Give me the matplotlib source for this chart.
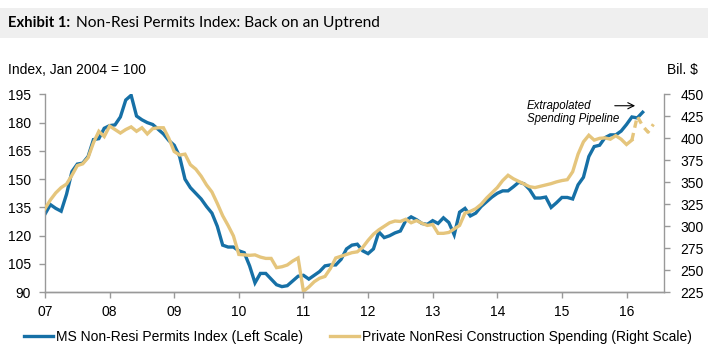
import numpy as np
import matplotlib
matplotlib.use("Agg")
import matplotlib.pyplot as plt
from matplotlib.patches import Rectangle, FancyArrowPatch
from matplotlib.lines import Line2D

# monthly data starting Jan 2007
start_year = 2007
permits = [131.5, 136.5, 134.5, 133, 142, 154, 158, 158.5, 162, 171, 171.5, 177,
           178.4, 178.8, 183, 192, 194.5, 183.5, 181.5, 180, 179, 176.5, 174, 170.5,
           168, 162, 150, 145.5, 142.5, 139.5, 135.5, 132, 125, 115, 114, 114,
           112, 111, 104, 95, 100, 100, 97, 94, 93, 93.5, 96, 98.5,
           99, 97, 99, 101, 104, 104.5, 104.5, 107.5, 113, 115, 115.5, 112,
           110.5, 113, 122, 119, 120, 121.5, 122.5, 128, 130, 128.5, 126.5, 126,
           128, 126.5, 129.5, 127, 120.5, 132.5, 134.5, 130.5, 132, 135.5, 138, 140.5,
           142.5, 143.8, 143.8, 146, 148.4, 147.5, 144.5, 140, 140, 140.5, 135, 137.5,
           140.3, 140.3, 139.5, 147, 151, 162, 167.3, 168, 172, 173.5, 173.5, 175.5,
           179, 183, 182.5, 185.5]
spending = [320, 330, 338, 344, 348, 358, 369, 371, 378, 395, 408, 402,
            414, 410, 406, 410, 413, 408, 412, 405, 411, 412, 412, 400,
            385, 381, 382, 370, 365, 357, 347, 339, 326, 312, 301, 289,
            268, 267.5, 267, 267.5, 265, 263.5, 263.5, 253, 254, 256, 260.5, 264,
            226, 231, 237, 241, 243, 252, 264, 266, 268, 270, 271, 276,
            284, 291, 296, 300, 304, 306, 305.5, 308, 304, 306.5, 303.5, 301,
            302, 292, 292, 293, 297, 301, 315, 317, 320, 325, 332, 338,
            344, 352, 358, 354, 351, 348, 345, 344, 345.5, 347, 348.5, 350.5,
            352, 353, 362, 382, 396, 403.5, 398, 400, 400.5, 399, 403, 399,
            393, 398]
# extrapolated pipeline (dashed), continues from last spending month
extrap = [398, 425, 414, 407, 416]

year_labels = ['07', '08', '09', '10', '11', '12', '13', '14', '15', '16']
left_ticks = [90, 105, 120, 135, 150, 165, 180, 195]
right_ticks = [225, 250, 275, 300, 325, 350, 375, 400, 425, 450]

blue = '#1670a6'
tan = '#e5c57c'
grey = '#999999'

plt.rcParams['font.family'] = ['Liberation Sans', 'DejaVu Sans']

fig = plt.figure(figsize=(7.2, 3.56), dpi=100)
ax = fig.add_axes([0.0625, 0.179, 0.8597, 0.556])
ax2 = ax.twinx()

x1 = start_year + np.arange(len(permits)) / 12
x2 = start_year + np.arange(len(spending)) / 12
x3 = start_year + (len(spending) - 1 + np.arange(len(extrap))) / 12

ax.plot(x1, permits, color=blue, lw=2.4, solid_joinstyle='miter')
ax2.plot(x2, spending, color=tan, lw=2.4, solid_joinstyle='miter')
ax2.plot(x3, extrap, color=tan, lw=2.4, dashes=(2.2, 1.6))

ax.set_xlim(2007, 2016.58)
ax.set_ylim(90, 195)
ax2.set_ylim(225, 450)
ax.set_xticks(np.arange(2007, 2017))
ax.set_xticklabels(year_labels)
ax.set_yticks(left_ticks)
ax2.set_yticks(right_ticks)

for a in (ax, ax2):
    a.spines['top'].set_visible(False)
    for s in ('left', 'right', 'bottom'):
        a.spines[s].set_color(grey)
        a.spines[s].set_linewidth(1.0)
    a.tick_params(colors=grey, labelcolor='black', labelsize=10, length=4, width=1)
ax.tick_params(axis='y', pad=6)
ax2.tick_params(axis='y', pad=8)
ax.tick_params(axis='x', pad=5)
ax2.spines['left'].set_visible(False)
ax.spines['right'].set_visible(False)

# title bar
fig.patches.append(Rectangle((0, 0.893), 0.983, 0.0845, transform=fig.transFigure,
                             facecolor='#efefef', edgecolor='none', zorder=0))
fig.text(0.011, 0.935, 'Exhibit 1:', fontsize=10.6, fontweight='bold',
         family=['Lato', 'DejaVu Sans'], va='center')
fig.text(0.106, 0.935, 'Non-Resi Permits Index: Back on an Uptrend', fontsize=11.2,
         family=['Lato', 'DejaVu Sans'], va='center')

fig.text(0.011, 0.802, 'Index, Jan 2004 = 100', fontsize=10, va='center')
fig.text(0.926, 0.802, 'Bil. $', fontsize=10, va='center')

fig.text(0.732, 0.683, 'Extrapolated\nSpending Pipeline', fontsize=8.3, style='italic',
         va='center', linespacing=1.1)
fig.patches.append(FancyArrowPatch(
    (0.85, 0.703), (0.886, 0.703), transform=fig.transFigure,
    arrowstyle='->', mutation_scale=11, color='black', lw=0.8))

handles = [Line2D([], [], color=blue, lw=2.4),
           Line2D([], [], color=tan, lw=2.4)]
fig.legend(handles, ['MS Non-Resi Permits Index (Left Scale)',
                     'Private NonResi Construction Spending (Right Scale)'],
           loc='center', bbox_to_anchor=(0.497, 0.053), ncol=2, frameon=False,
           fontsize=10, handlelength=2.1, handletextpad=0.2, columnspacing=1.9)

fig.savefig('out.png', dpi=100)
